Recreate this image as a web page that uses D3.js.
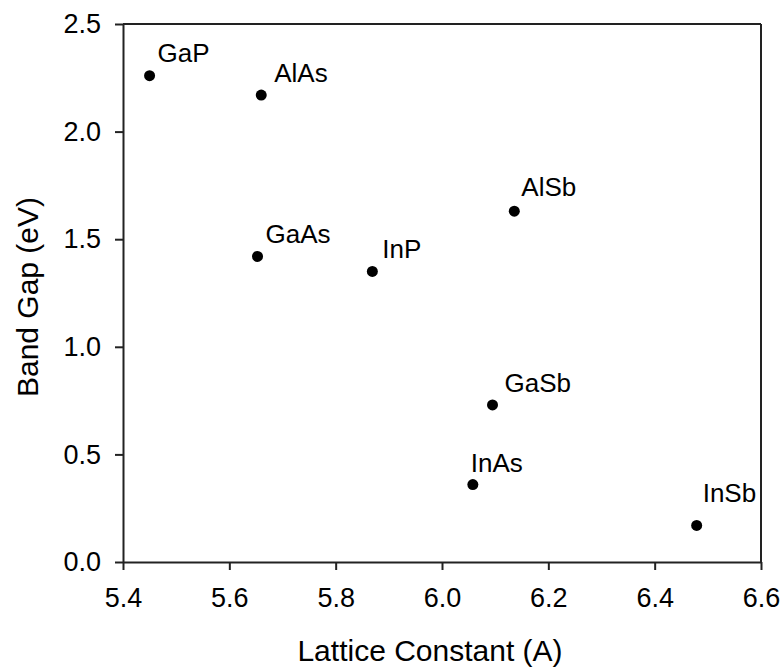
<!DOCTYPE html>
<html>
<head>
<meta charset="utf-8">
<script src="https://cdn.jsdelivr.net/npm/d3@7/dist/d3.min.js"></script>
<style>
  html, body { margin: 0; padding: 0; background: #fff; }
  svg { display: block; }
  text { font-family: "Liberation Sans", Arial, sans-serif; fill: #000; }
</style>
</head>
<body>
<svg id="chart" width="782" height="670"></svg>
<script>
// Data
const compounds = ["GaP", "AlAs", "GaAs", "InP", "AlSb", "GaSb", "InAs", "InSb"];
const latticeConstant = [5.45, 5.66, 5.653, 5.869, 6.136, 6.095, 6.058, 6.479];
const bandGap = [2.26, 2.17, 1.42, 1.35, 1.63, 0.73, 0.36, 0.17];
const xTicks = [5.4, 5.6, 5.8, 6.0, 6.2, 6.4, 6.6];
const yTicks = [0.0, 0.5, 1.0, 1.5, 2.0, 2.5];
// label placement (pixels relative to point) — layout only
const labelDx = [8, 13, 8, 10, 7, 12, -2, 6];
const labelDy = [-14, -13, -13, -13, -15, -13, -13, -23];

const W = 782, H = 670;
const margin = { left: 123, right: 21, top: 24, bottom: 108 };
const iw = W - margin.left - margin.right;
const ih = H - margin.top - margin.bottom;

const svg = d3.select("#chart");
const g = svg.append("g").attr("transform", `translate(${margin.left},${margin.top})`);

const x = d3.scaleLinear().domain([5.4, 6.6]).range([0, iw]);
const y = d3.scaleLinear().domain([0, 2.5]).range([ih, 0]);

// Frame top/right
g.append("line").attr("x1", 0).attr("x2", iw).attr("y1", 0).attr("y2", 0)
  .attr("stroke", "#222").attr("stroke-width", 2);
g.append("line").attr("x1", iw).attr("x2", iw).attr("y1", 0).attr("y2", ih)
  .attr("stroke", "#222").attr("stroke-width", 2);

// X axis
const xAxis = g.append("g").attr("transform", `translate(0,${ih})`)
  .call(d3.axisBottom(x).tickValues(xTicks).tickFormat(d3.format(".1f")).tickSizeInner(8).tickSizeOuter(0).tickPadding(18));
xAxis.select(".domain").attr("stroke", "#222").attr("stroke-width", 2);
xAxis.selectAll(".tick line").attr("stroke", "#222").attr("stroke-width", 2);
xAxis.selectAll(".tick text").style("font-size", "27px").style("font-family", "Liberation Sans, Arial, sans-serif").attr("fill", "#000");

// Y axis
const yAxis = g.append("g")
  .call(d3.axisLeft(y).tickValues(yTicks).tickFormat(d3.format(".1f")).tickSizeInner(8).tickSizeOuter(0).tickPadding(14));
yAxis.select(".domain").attr("stroke", "#222").attr("stroke-width", 2);
yAxis.selectAll(".tick line").attr("stroke", "#222").attr("stroke-width", 2);
yAxis.selectAll(".tick text").style("font-size", "27px").style("font-family", "Liberation Sans, Arial, sans-serif").attr("fill", "#000");

const pts = compounds.map((c, i) => ({ name: c, x: latticeConstant[i], y: bandGap[i], dx: labelDx[i], dy: labelDy[i] }));

// Points
g.selectAll("circle.pt").data(pts).join("circle")
  .attr("class", "pt")
  .attr("cx", d => x(d.x)).attr("cy", d => y(d.y)).attr("r", 5.5)
  .attr("fill", "#000");

// Labels
g.selectAll("text.lbl").data(pts).join("text")
  .attr("class", "lbl")
  .attr("x", d => x(d.x) + d.dx).attr("y", d => y(d.y) + d.dy)
  .style("font-size", "26px")
  .text(d => d.name);

// Axis titles
svg.append("text")
  .attr("x", margin.left + iw / 2 - 12).attr("y", 661)
  .attr("text-anchor", "middle").style("font-size", "30px")
  .text("Lattice Constant (A)");

svg.append("text")
  .attr("transform", `translate(38,${margin.top + ih / 2 + 4}) rotate(-90)`)
  .attr("text-anchor", "middle").style("font-size", "30px")
  .text("Band Gap (eV)");
</script>
</body>
</html>
